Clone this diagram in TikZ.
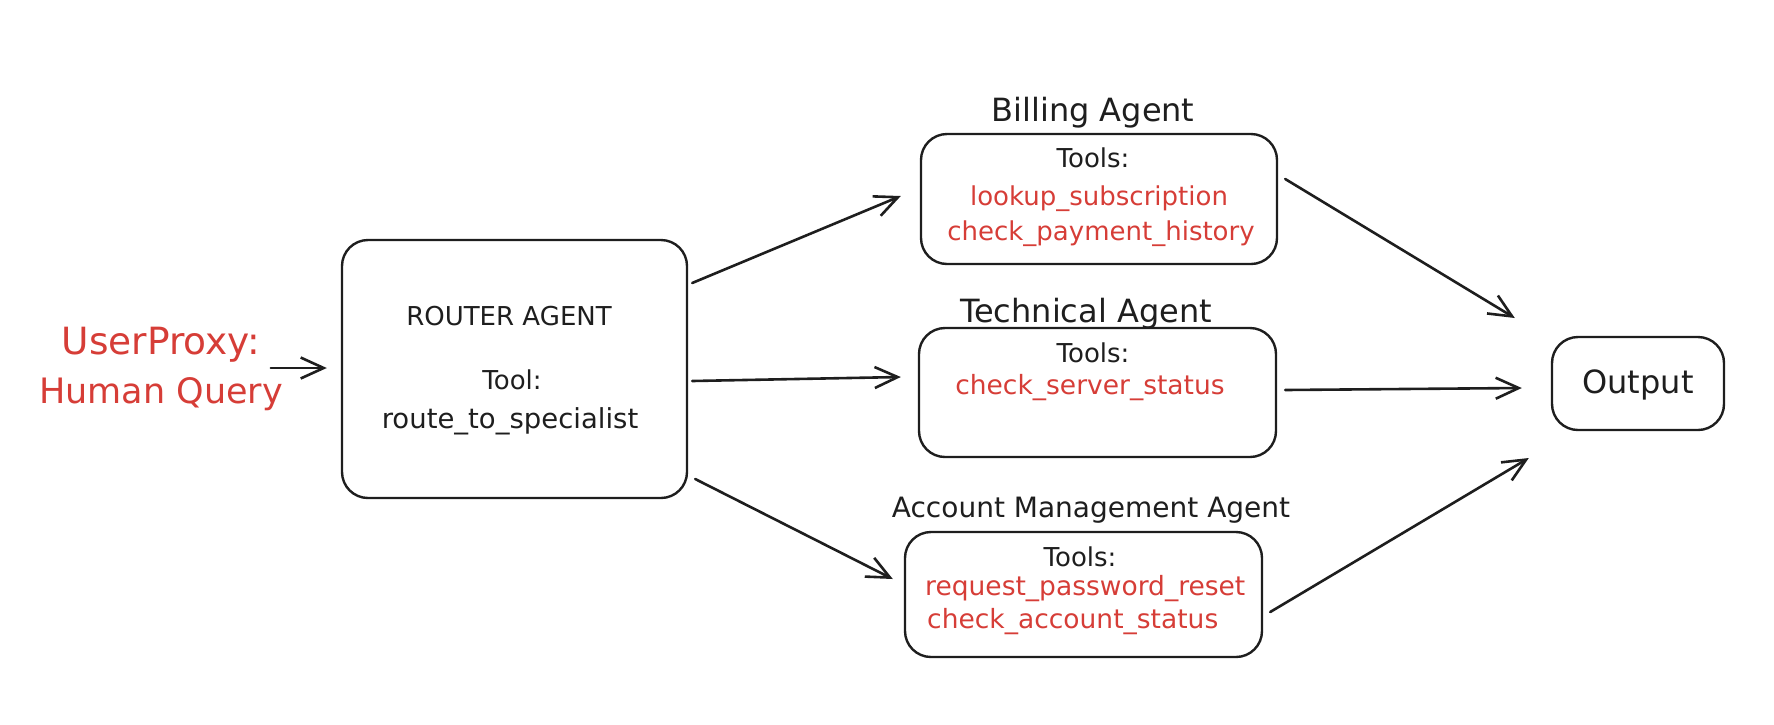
\documentclass[tikz,border=0pt]{standalone}
\usepackage{fontspec}
\setmainfont{DejaVu Sans}
\usetikzlibrary{arrows.meta,calc}
\definecolor{ink}{HTML}{1E1E1E}
\definecolor{redt}{HTML}{D63D37}
\begin{document}
\begin{tikzpicture}[x=1pt,y=-1pt,
  box/.style={draw=ink,line width=2.4pt,rounded corners=26pt,inner sep=0pt},
  arr/.style={draw=ink,line width=2.6pt,line cap=round,-{Straight Barb[length=23pt,width=21pt]}},
  txt/.style={text=ink,inner sep=0pt,anchor=base,font=\fontsize{26}{32}\selectfont},
  tool/.style={txt,text=redt},
  title/.style={txt,font=\fontsize{32}{38}\selectfont},
]
\useasboundingbox (0,0) rectangle (1774,724);

% boxes
\node[box,minimum width=345pt,minimum height=258pt] (router) at (514.5,369) {};
\node[box,minimum width=356pt,minimum height=130pt] (billing) at (1099,199) {};
\node[box,minimum width=357pt,minimum height=129pt] (tech) at (1097.5,392.5) {};
\node[box,minimum width=357pt,minimum height=125pt] (account) at (1083.5,594.5) {};
\node[box,minimum width=172pt,minimum height=93pt] (output) at (1638,383.5) {};

% user proxy
\node[txt,text=redt,font=\fontsize{37.5}{48}\selectfont] (user1) at (161,354) {UserProxy:};
\node[txt,text=redt,font=\fontsize{35}{48}\selectfont] (user2) at (161,403) {Human Query};

% router texts
\node[txt,font=\fontsize{26}{30}\selectfont] (rtitle) at (509,325) {ROUTER AGENT};
\node[txt] (rtool) at (512,389) {Tool:};
\node[txt,font=\fontsize{27.5}{32}\selectfont] (rname) at (510,428) {route\_to\_specialist};

% billing
\node[title] (btitle) at (1093,121) {Billing Agent};
\node[txt] (btools) at (1093,167) {Tools:};
\node[tool] (b1) at (1099,205) {lookup\_subscription};
\node[tool] (b2) at (1101,240) {check\_payment\_history};

% technical
\node[title] (ttitle) at (1086,322) {Technical Agent};
\node[txt] (ttools) at (1093,362) {Tools:};
\node[tool,font=\fontsize{26.5}{32}\selectfont] (t1) at (1090,394) {check\_server\_status};

% account
\node[txt,font=\fontsize{28}{34}\selectfont] (atitle) at (1091,517) {Account Management Agent};
\node[txt] (atools) at (1080,566) {Tools:};
\node[tool,anchor=base west,font=\fontsize{26.5}{32}\selectfont] (a1) at (925,595) {request\_password\_reset};
\node[tool,anchor=base west,font=\fontsize{26.5}{32}\selectfont] (a2) at (927,628) {check\_account\_status};

% output
\node[txt,font=\fontsize{32}{38}\selectfont] (otext) at (1638,393) {Output};

% arrows
\draw[arr] ($(router.west)+(-70,-1)$) -- ($(router.west)+(-14,-1)$);
\draw[arr] ($(router.east)+(4,-86)$) -- ($(billing.west)+(-19,-3)$);
\draw[arr] ($(router.east)+(4,12)$) -- ($(tech.west)+(-17,-15.5)$);
\draw[arr] ($(router.east)+(7,110)$) -- ($(account.west)+(-11,-15.5)$);
\draw[arr] ($(billing.east)+(7,-20)$) -- ($(output.west)+(-36,-65.5)$);
\draw[arr] ($(tech.east)+(8,-2.5)$) -- ($(output.west)+(-29,4.5)$);
\draw[arr] ($(account.east)+(7,17.5)$) -- ($(output.west)+(-22,74.5)$);
\end{tikzpicture}
\end{document}
